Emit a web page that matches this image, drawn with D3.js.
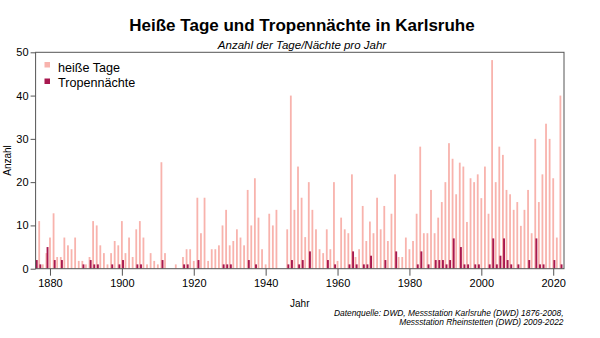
<!DOCTYPE html>
<html><head><meta charset="utf-8">
<script src="https://cdn.jsdelivr.net/npm/d3@7"></script>
<style>body{margin:0;background:#fff} svg{display:block} text{font-family:"Liberation Sans",Arial,sans-serif;fill:#000}</style>
</head><body><svg id="c" width="600" height="338"></svg>
<script>
const firstYear = 1876, lastYear = 2022;
const years = d3.range(firstYear, lastYear + 1);
const hotDays = [
  2, 11, 1, 3.6, 7.2, 12.8, 2.7, 2.7, 7.2, 5.4,
  4.5, 7.2, 1.8, 1.8, 1, 2.7, 11, 10, 5.4, 3.6,
  1, 3.6, 6.4, 5.4, 11, 3.6, 7.2, 2.7, 9.1, 11,
  7.2, 1, 3.6, 1.8, 1, 24.6, 3.6, 0, 0, 1,
  0, 2.7, 4.5, 4.5, 1.8, 16.4, 8.2, 16.4, 1.8, 4.5,
  4.5, 5.4, 10, 13.6, 5.4, 6.4, 9.1, 7.2, 5.4, 18.2,
  10, 20.9, 11.8, 4.5, 1, 12.7, 10, 13.6, 0, 0,
  9.1, 40, 13.6, 23.6, 16.4, 7.3, 20, 13.6, 9.1, 4.5,
  3.6, 9.1, 4.5, 20, 1.8, 11.8, 9.1, 8.2, 21.8, 2.7,
  4.5, 14.5, 6.4, 10.9, 8.2, 16.4, 9.1, 14.5, 6.4, 12.7,
  21.8, 2.7, 2.7, 7.2, 4.5, 6.4, 12.7, 28.2, 8.2, 8.2,
  18.2, 8.2, 11.8, 15.4, 20, 29, 25.4, 17.2, 24.5, 23.6,
  10.8, 20.9, 20, 21.8, 16.3, 23.6, 12.7, 48.2, 20, 28.2,
  26.3, 18.2, 17.2, 13.6, 15.4, 9.9, 13.6, 18.2, 8.2, 30,
  15.4, 21.8, 33.5, 30, 20.9, 7.2, 40
];
const tropicalNights = [
  2, 1, 0, 5, 0, 2, 0, 2, 0, 0,
  0, 0, 0, 1, 0, 2, 1, 1, 0, 0,
  0, 1, 0, 1, 2, 0, 0, 0, 1, 1,
  0, 0, 0, 0, 0, 2, 0, 0, 0, 0,
  0, 1, 1, 0, 0, 2, 0, 0, 0, 0,
  0, 0, 1, 1, 1, 0, 0, 0, 0, 2,
  0, 1, 0, 0, 0, 0, 0, 0, 0, 0,
  1, 2, 0, 1, 2, 0, 4, 0, 0, 0,
  0, 2, 0, 1, 0, 0, 0, 1, 4, 1,
  0, 1, 1, 3, 0, 0, 0, 2, 0, 0,
  4, 0, 0, 0, 0, 0, 1, 4, 0, 1,
  0, 2, 2, 2, 1, 2, 7, 0, 5, 1,
  1, 0, 1, 1, 0, 0, 1, 7, 1, 3,
  7, 2, 1, 0, 1, 0, 0, 2, 0, 7,
  1, 1, 0, 0, 2, 0, 1
];
const yTicks = [0, 10, 20, 30, 40, 50];
const xTicks = [1880, 1900, 1920, 1940, 1960, 1980, 2000, 2020];
const seriesNames = ["heiße Tage", "Tropennächte"];
const seriesColors = ["#f8b3ad", "#a8184f"];
const titleText = "Heiße Tage und Tropennächte in Karlsruhe";
const subtitleText = "Anzahl der Tage/Nächte pro Jahr";
const sourceLines = ["Datenquelle: DWD, Messstation Karlsruhe (DWD) 1876-2008,", "Messstation Rheinstetten (DWD) 2009-2022"];

const svg = d3.select("#c");
const m = {l: 35.6, r: 564, t: 52.3, b: 268.7};
const x = d3.scaleLinear().domain([1876, 2023]).range([m.l, m.r]);
const y = d3.scaleLinear().domain([0, 50]).range([m.b, m.t]);
const data = years.map((yr, i) => ({year: yr, hot: hotDays[i], trop: tropicalNights[i]}));

svg.append("defs").append("clipPath").attr("id", "pc").append("rect")
  .attr("x", m.l).attr("y", m.t).attr("width", m.r - m.l).attr("height", m.b - m.t);
const g = svg.append("g").attr("clip-path", "url(#pc)");
g.selectAll("rect.hot").data(data.filter(d => d.hot > 0)).join("rect").attr("class", "hot")
  .attr("x", d => x(d.year) - 0.9).attr("width", 1.8)
  .attr("y", d => y(d.hot)).attr("height", d => y(0) - y(d.hot))
  .attr("fill", seriesColors[0]);
g.selectAll("rect.trop").data(data.filter(d => d.trop > 0)).join("rect").attr("class", "trop")
  .attr("x", d => x(d.year) + 0.2).attr("width", 1.9)
  .attr("y", d => y(d.trop)).attr("height", d => y(0) - y(d.trop))
  .attr("fill", seriesColors[1]);

// frame
svg.append("rect").attr("x", m.l).attr("y", m.t).attr("width", m.r - m.l).attr("height", m.b - m.t)
  .attr("fill", "none").attr("stroke", "#555").attr("stroke-width", 1);

const ya = svg.append("g").attr("transform", `translate(${m.l},0)`)
  .call(d3.axisLeft(y).tickValues(yTicks).tickSize(5).tickPadding(2));
ya.select(".domain").remove();
ya.selectAll("line").attr("stroke", "#555");
ya.selectAll("text").style("font-size", "11px").style("font-family", "'Liberation Sans',Arial,sans-serif").attr("fill", "#000");

const xa = svg.append("g").attr("transform", `translate(0,${m.b})`)
  .call(d3.axisBottom(x).tickValues(xTicks).tickFormat(d3.format("d")).tickSize(7).tickPadding(4));
xa.select(".domain").remove();
xa.selectAll("line").attr("stroke", "#555");
xa.selectAll("text").style("font-size", "11px").style("font-family", "'Liberation Sans',Arial,sans-serif").attr("fill", "#000");

svg.append("text").attr("x", 302).attr("y", 31).attr("text-anchor", "middle")
  .style("font-size", "17px").style("font-weight", "bold").text(titleText);
svg.append("text").attr("x", 302).attr("y", 48.5).attr("text-anchor", "middle")
  .style("font-size", "11.5px").style("font-style", "italic").text(subtitleText);

svg.append("text").attr("x", (m.l + m.r) / 2).attr("y", 306.5).attr("text-anchor", "middle")
  .style("font-size", "10px").text("Jahr");
svg.append("text").attr("transform", `translate(11,${(m.t + m.b) / 2}) rotate(-90)`).attr("text-anchor", "middle")
  .style("font-size", "10px").text("Anzahl");

svg.selectAll("text.src").data(sourceLines).join("text").attr("class", "src")
  .attr("x", 563.5).attr("y", (d, i) => 315.5 + i * 9).attr("text-anchor", "end")
  .style("font-size", "8.4px").style("font-style", "italic").text(d => d);

const lg = svg.append("g");
seriesNames.forEach((name, i) => {
  lg.append("rect").attr("x", 44.5).attr("y", 62 + i * 16.5).attr("width", 5.5).attr("height", 5.5).attr("fill", seriesColors[i]);
  lg.append("text").attr("x", 58).attr("y", 71.5 + i * 15.5).style("font-size", "12.6px").text(name);
});
</script></body></html>
